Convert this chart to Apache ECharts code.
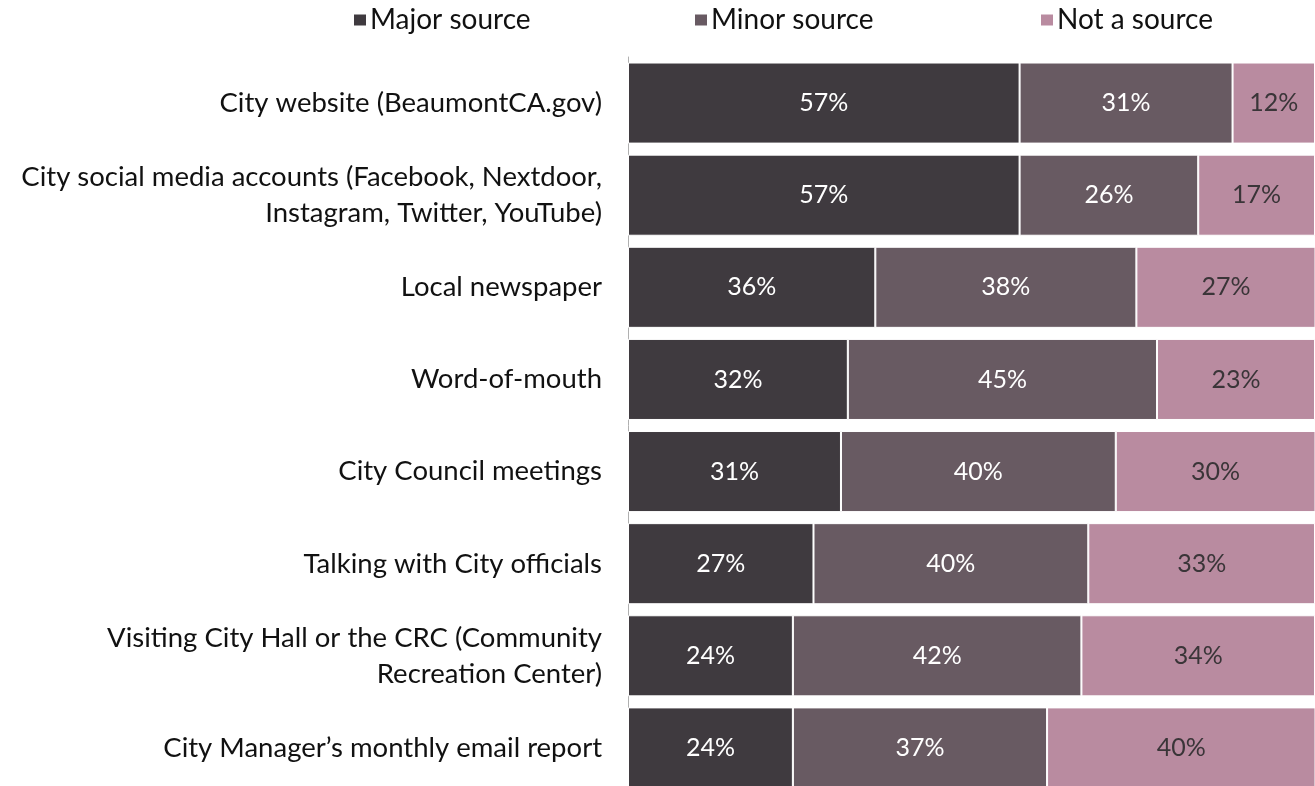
<!DOCTYPE html>
<html>
<head>
<meta charset="utf-8">
<script src="https://cdn.jsdelivr.net/npm/echarts@6/dist/echarts.min.js"></script>
<style>
html,body{margin:0;padding:0;background:#fff;overflow:hidden;}
#chart{width:1315px;height:800px;}
</style>
</head>
<body>
<div id="chart"></div>
<script>
const categories = [
  "City website (BeaumontCA.gov)",
  "City social media accounts (Facebook, Nextdoor,\nInstagram, Twitter, YouTube)",
  "Local newspaper",
  "Word-of-mouth",
  "City Council meetings",
  "Talking with City officials",
  "Visiting City Hall or the CRC (Community\nRecreation Center)",
  "City Manager\u2019s monthly email report"
];
const seriesNames = ["Major source", "Minor source", "Not a source"];
const majorSource = [57, 57, 36, 32, 31, 27, 24, 24];
const minorSource = [31, 26, 38, 45, 40, 40, 42, 37];
const notASource = [12, 17, 27, 23, 30, 33, 34, 40];

const colors = ["#3f3a3f", "#685a62", "#b98ba0"];
const labelColors = ["#ffffff", "#ffffff", "#3a3538"];
const FONT = "Lato";

const chart = echarts.init(document.getElementById('chart'), null, {renderer: 'canvas'});

function mkSeries(name, data, i) {
  return {
    name: name,
    type: 'bar',
    stack: 'total',
    data: data,
    barCategoryGap: '12%',
    itemStyle: {color: colors[i], borderColor: '#ffffff', borderWidth: 1},
    label: {
      show: true,
      position: 'inside',
      formatter: '{c}%',
      color: labelColors[i],
      fontFamily: FONT,
      fontSize: 25
    },
    emphasis: {disabled: true}
  };
}

const legendLefts = [347, 688, 1034];
const option = {
  animation: false,
  backgroundColor: '#ffffff',
  legend: seriesNames.map((n, i) => ({
    data: [n],
    left: legendLefts[i],
    top: 1,
    icon: 'rect',
    itemWidth: 14,
    itemHeight: 13,
    itemGap: 0,
    textStyle: {fontFamily: FONT, fontSize: 28, color: '#111111', padding: [0, 0, 0, -2]}
  })),
  grid: {left: 628, right: 0, top: 57, height: 737, containLabel: false},
  xAxis: {
    type: 'value',
    min: 0,
    max: 100,
    show: false
  },
  yAxis: {
    type: 'category',
    data: categories,
    inverse: true,
    axisLine: {show: true, lineStyle: {color: '#b0b0b0', width: 1}},
    axisTick: {show: false},
    splitLine: {show: false},
    axisLabel: {
      fontFamily: FONT,
      fontSize: 27.5,
      color: '#111111',
      margin: 26,
      align: 'right',
      lineHeight: 36
    }
  },
  series: [
    mkSeries(seriesNames[0], majorSource, 0),
    mkSeries(seriesNames[1], minorSource, 1),
    mkSeries(seriesNames[2], notASource, 2)
  ]
};
chart.setOption(option);
</script>
</body>
</html>
